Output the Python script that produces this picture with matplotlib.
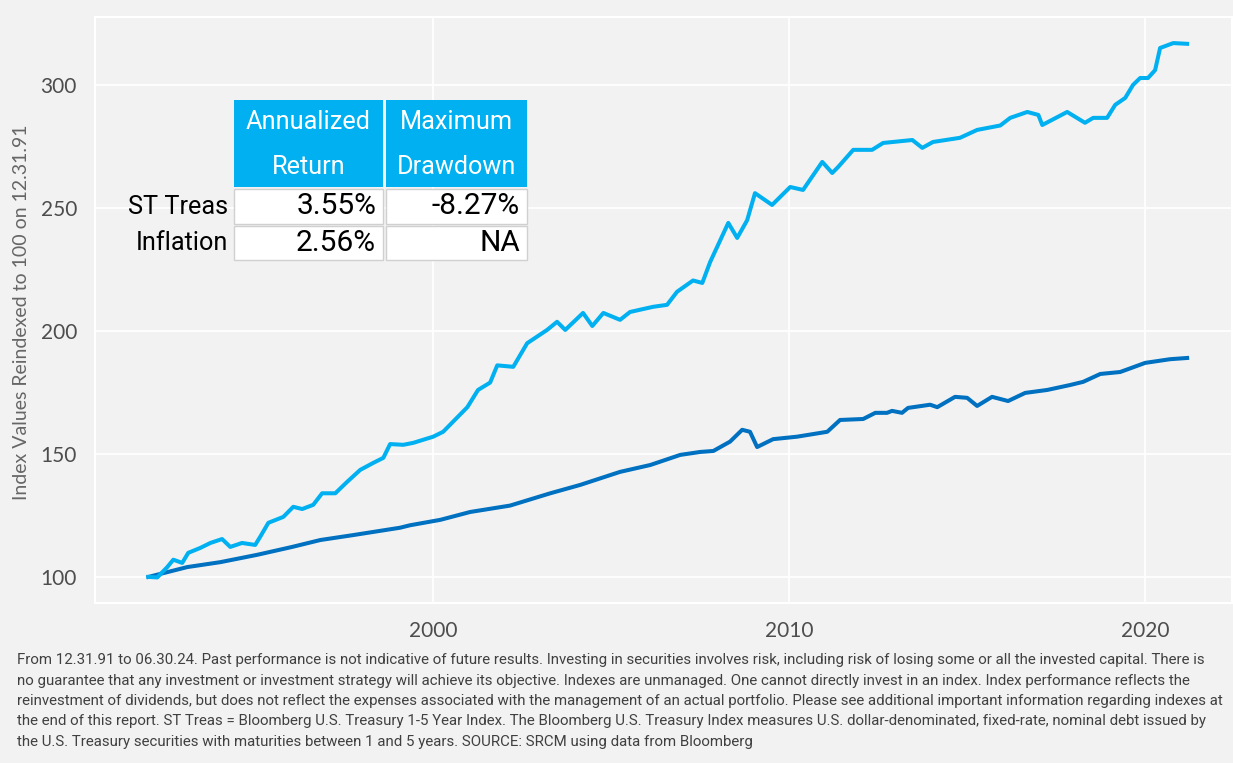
import matplotlib
matplotlib.use("Agg")
import matplotlib.pyplot as plt
from matplotlib.patches import Rectangle

W, H = 1233, 763

st_years = [1992.0, 1992.25, 1992.53, 1992.70, 1992.95, 1993.12, 1993.46, 1993.74, 1994.07, 1994.30,
            1994.63, 1995.00, 1995.14, 1995.37, 1995.79, 1996.07, 1996.32, 1996.63, 1996.88, 1997.25,
            1997.58, 1997.95, 1998.31, 1998.60, 1998.79, 1999.16, 1999.44, 2000.00, 2000.28, 2000.96,
            2001.26, 2001.60, 2001.80, 2002.25, 2002.64, 2003.20, 2003.48, 2003.71, 2004.21, 2004.47,
            2004.78, 2005.25, 2005.53, 2006.18, 2006.57, 2006.85, 2007.30, 2007.56, 2007.78, 2008.29,
            2008.54, 2008.82, 2009.04, 2009.52, 2010.03, 2010.39, 2010.93, 2011.21, 2011.38, 2011.80,
            2012.33, 2012.64, 2013.46, 2013.74, 2014.04, 2014.80, 2015.28, 2015.93, 2016.21, 2016.69,
            2017.00, 2017.11, 2017.81, 2018.31, 2018.54, 2018.93, 2019.16, 2019.44, 2019.66, 2019.86,
            2020.08, 2020.28, 2020.42, 2020.79, 2021.18]
st_treas = [100.0, 99.8, 104.0, 107.0, 105.7, 109.8, 111.8, 113.8, 115.4, 112.2,
            113.8, 113.0, 116.3, 122.0, 124.4, 128.5, 127.6, 129.3, 134.0, 134.0,
            138.6, 143.5, 146.3, 148.4, 154.0, 153.7, 154.5, 157.0, 159.0, 169.0,
            176.0, 179.0, 186.0, 185.4, 195.0, 200.4, 203.7, 200.4, 207.3, 202.0,
            207.3, 204.5, 207.7, 209.8, 210.6, 215.9, 220.5, 219.5, 228.0, 243.9,
            237.8, 245.0, 256.0, 251.2, 258.5, 257.3, 268.7, 264.2, 266.7, 273.6,
            273.6, 276.4, 277.6, 274.4, 276.8, 278.5, 281.7, 283.5, 286.6, 289.0,
            287.8, 283.7, 289.0, 284.6, 286.6, 286.6, 291.9, 294.7, 300.0, 302.8,
            302.8, 306.0, 315.0, 317.0, 316.7]

inf_years = [1992.0, 1993.09, 1994.02, 1995.06, 1996.04, 1996.83, 1997.75, 1999.07, 1999.35, 2000.20,
             2001.04, 2002.16, 2003.29, 2004.13, 2005.25, 2006.10, 2006.94, 2007.50, 2007.87, 2008.34,
             2008.68, 2008.90, 2009.10, 2009.55, 2010.22, 2011.07, 2011.43, 2012.08, 2012.42, 2012.75,
             2012.89, 2013.17, 2013.34, 2013.96, 2014.16, 2014.66, 2015.00, 2015.28, 2015.70, 2016.15,
             2016.63, 2017.25, 2017.89, 2018.26, 2018.74, 2019.30, 2020.00, 2020.70, 2021.18]
inflation = [100.0, 104.0, 106.0, 109.0, 112.2, 115.0, 117.0, 120.0, 121.0, 123.2,
             126.4, 129.0, 134.0, 137.4, 142.7, 145.5, 149.6, 150.8, 151.2, 155.0,
             159.8, 159.0, 152.8, 156.0, 157.0, 159.0, 163.8, 164.2, 166.7, 166.7,
             167.5, 166.7, 168.7, 170.0, 169.0, 173.2, 172.8, 169.5, 173.2, 171.5,
             174.8, 176.0, 178.0, 179.3, 182.5, 183.3, 187.0, 188.5, 189.0]

x_ticks = [2000, 2010, 2020]
y_ticks = [100, 150, 200, 250, 300]

table_cols = [["Annualized", "Return"], ["Maximum", "Drawdown"]]
table_rows = ["ST Treas", "Inflation"]
table_vals = [["3.55%", "-8.27%"], ["2.56%", "NA"]]

footnote = [
    "From 12.31.91 to 06.30.24. Past performance is not indicative of future results. Investing in securities involves risk, including risk of losing some or all the invested capital. There is",
    "no guarantee that any investment or investment strategy will achieve its objective. Indexes are unmanaged. One cannot directly invest in an index. Index performance reflects the",
    "reinvestment of dividends, but does not reflect the expenses associated with the management of an actual portfolio. Please see additional important information regarding indexes at",
    "the end of this report. ST Treas = Bloomberg U.S. Treasury 1-5 Year Index. The Bloomberg U.S. Treasury Index measures U.S. dollar-denominated, fixed-rate, nominal debt issued by",
    "the U.S. Treasury securities with maturities between 1 and 5 years. SOURCE: SRCM using data from Bloomberg",
]

BG = "#F2F2F2"
LIGHT = "#00B0F0"
DARK = "#0070C0"
NARROW = ["Roboto", "DejaVu Sans"]
LATO = ["Lato", "DejaVu Sans"]


def fx(x):
    return x / W


def fy(y):
    return 1 - y / H


def fit_size(fig, text, family, target_px, ref=20):
    # scale the font size so the text is target_px wide
    t = fig.text(0, 0, text, fontsize=ref, family=family)
    w = t.get_window_extent(fig.canvas.get_renderer()).width
    t.remove()
    return ref * target_px / w


fig = plt.figure(figsize=(W / 100, H / 100), dpi=100, facecolor=BG)
ax = fig.add_axes([fx(95), fy(603), fx(1232) - fx(95), fy(17) - fy(603)])
ax.set_facecolor(BG)

ax.plot(inf_years, inflation, color=DARK, lw=2.9, solid_joinstyle="round", zorder=3)
ax.plot(st_years, st_treas, color=LIGHT, lw=2.9, solid_joinstyle="round", zorder=4)

ax.set_xlim(1990.5, 2022.44)
ax.set_ylim(89.4, 327.6)
ax.set_xticks(x_ticks)
ax.set_yticks(y_ticks)
ax.grid(True, color="white", lw=1.3)
ax.set_axisbelow(True)
for s in ax.spines.values():
    s.set_color("white")
    s.set_linewidth(1.5)
ax.tick_params(length=0, pad=13, labelsize=15, labelcolor="#4d4d4d")
for lab in ax.get_xticklabels() + ax.get_yticklabels():
    lab.set_family(LATO)

fig.text(fx(22), fy(312), "Index Values Reindexed to 100 on 12.31.91", rotation=90,
         ha="center", va="center", fontsize=14, color="#666666", family=LATO)

# summary table
hsize = fit_size(fig, "Annualized", NARROW, 124)
vsize = fit_size(fig, "3.55%", NARROW, 80)
col_x = [(234, 383), (386, 527)]
head_y = (100, 187)
head_lines = [122, 167]
row_y = [(189, 224), (226, 260)]
for (x0, x1), head in zip(col_x, table_cols):
    fig.patches.append(Rectangle((fx(x0), fy(head_y[1])), fx(x1) - fx(x0), fy(head_y[0]) - fy(head_y[1]),
                                 transform=fig.transFigure, facecolor=LIGHT, edgecolor="none", zorder=5))
    for ly, word in zip(head_lines, head):
        fig.text(fx((x0 + x1) / 2), fy(ly), word, ha="center", va="center", fontsize=hsize,
                 color="white", family=NARROW, zorder=6)
for (y0, y1), name, vals in zip(row_y, table_rows, table_vals):
    fig.text(fx(228), fy((y0 + y1) / 2), name, ha="right", va="center", fontsize=hsize,
             color="black", family=NARROW, zorder=6)
    for (x0, x1), v in zip(col_x, vals):
        fig.patches.append(Rectangle((fx(x0), fy(y1)), fx(x1) - fx(x0), fy(y0) - fy(y1),
                                     transform=fig.transFigure, facecolor="white", edgecolor="#d0d0d0",
                                     lw=1, zorder=5))
        fig.text(fx(x1 - 7), fy((y0 + y1) / 2), v, ha="right", va="center", fontsize=vsize,
                 color="black", family=NARROW, zorder=6)

fsize = fit_size(fig, footnote[2], NARROW, 1210)
for i, line in enumerate(footnote):
    fig.text(fx(17), fy(660 + i * 20.5), line, ha="left", va="center", fontsize=fsize,
             color="#404040", family=NARROW)

fig.savefig("out.png", dpi=100, facecolor=BG)
